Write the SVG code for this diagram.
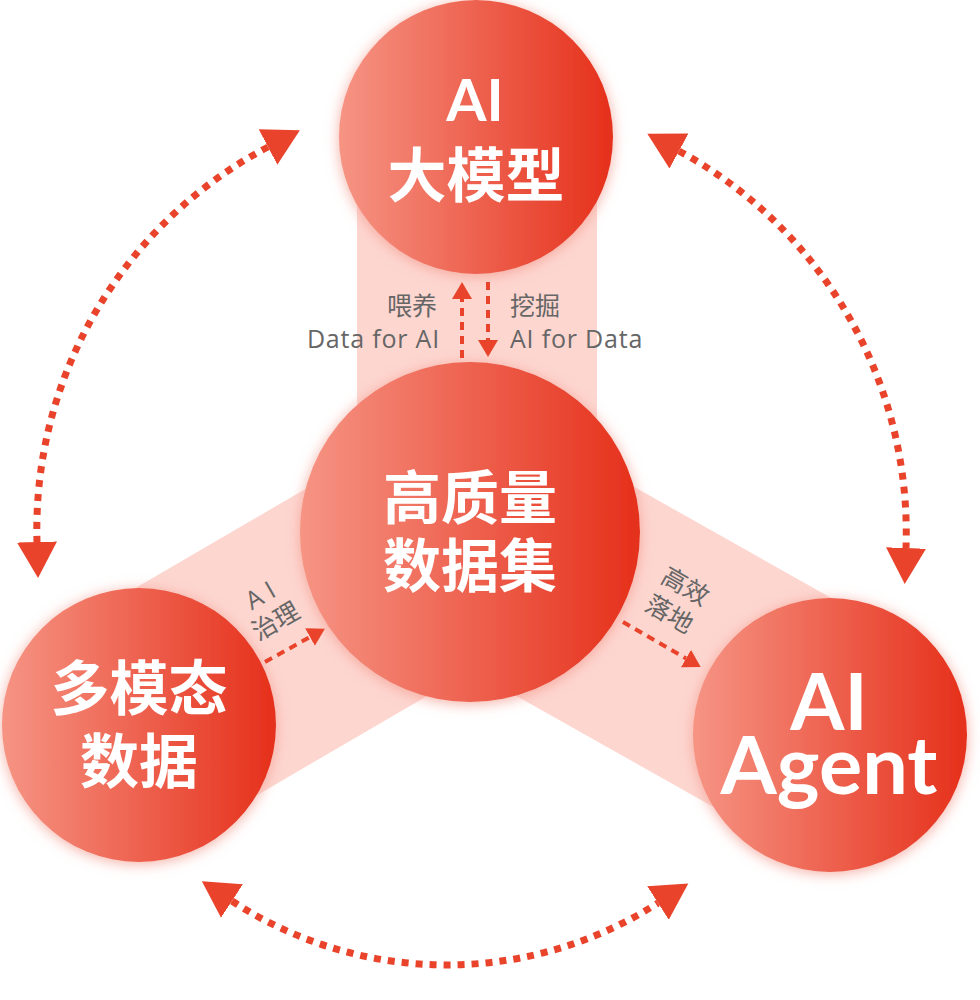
<svg xmlns="http://www.w3.org/2000/svg" width="980" height="1000" viewBox="0 0 980 1000">
<defs>
<linearGradient id="g" x1="0" y1="0" x2="1" y2="0">
<stop offset="0" stop-color="#f69484"/>
<stop offset="1" stop-color="#e5301a"/>
</linearGradient>
<filter id="glow" x="-20%" y="-20%" width="140%" height="140%">
<feDropShadow dx="0" dy="2" stdDeviation="7" flood-color="#f39a8d" flood-opacity="0.8"/>
</filter>
<marker id="big" markerUnits="userSpaceOnUse" markerWidth="40" markerHeight="44" refX="0" refY="21" orient="auto-start-reverse" viewBox="0 0 40 44">
<path d="M0,1 L36,21 L0,41 Z" fill="#e9442b"/>
</marker>
<marker id="small" markerUnits="userSpaceOnUse" markerWidth="20" markerHeight="22" refX="0" refY="11" orient="auto" viewBox="0 0 20 22">
<path d="M0,1 L17,11 L0,21 Z" fill="#e9442b"/>
</marker>
<style>
.band{fill:#fdd6d0}
.node{fill:url(#g);filter:url(#glow)}
.big{font-family:"Noto Sans CJK SC","Noto Sans",sans-serif;font-weight:700;fill:#fff;text-anchor:middle}
.lat{font-family:Lato,"Noto Sans",sans-serif;font-weight:700;fill:#fff;text-anchor:middle}
.lbl{font-family:"Noto Sans CJK SC","Noto Sans",sans-serif;font-size:25px;fill:#666}
.lblat{font-family:"Open Sans","Noto Sans",sans-serif;font-size:25px;fill:#666;letter-spacing:0.8px}
.wide{letter-spacing:7px}
.arc{fill:none;stroke:#e9442b;stroke-width:7;stroke-dasharray:7 7}
.dash{fill:none;stroke:#e9442b;stroke-width:4;stroke-dasharray:8 6}
</style>
</defs>
<rect width="980" height="1000" fill="#fff"/>
<g id="bands">
<rect class="band" x="357" y="137" width="240" height="395"/>
<polygon class="band" points="409.5,428.3 78.5,621.3 199.5,828.7 530.5,635.7"/>
<polygon class="band" points="528.9,427.5 888.9,630.5 771.1,839.5 411.1,636.5"/>
</g>
<g id="connectors">
<path class="arc" d="M268,147 A432,432 0 0 0 37,542" marker-start="url(#big)" marker-end="url(#big)"/>
<path class="arc" d="M679,151 A434,434 0 0 1 906,548" marker-start="url(#big)" marker-end="url(#big)"/>
<path class="arc" d="M232,901 A392,392 0 0 0 658,903" marker-start="url(#big)" marker-end="url(#big)"/>
</g>
<g id="node-top">
<circle class="node" cx="476" cy="137" r="137"/>
<text class="lat" x="475" y="121" font-size="58">AI</text>
<text class="big" x="476" y="197" font-size="59">大模型</text>
</g>
<g id="node-left">
<circle class="node" cx="139" cy="725" r="137"/>
<text class="big" x="139" y="710" font-size="59">多模态</text>
<text class="big" x="139" y="783" font-size="59">数据</text>
</g>
<g id="node-right">
<circle class="node" cx="830" cy="735" r="137"/>
<text class="lat" x="829" y="730" font-size="78">AI</text>
<text class="lat" x="829" y="794" font-size="81">Agent</text>
</g>
<g id="node-center">
<circle class="node" cx="470" cy="532" r="170"/>
<text class="big" x="470" y="519" font-size="58">高质量</text>
<text class="big" x="470" y="587" font-size="58">数据集</text>
</g>
<g id="inner-connectors">
<line class="dash" x1="462" y1="358" x2="462" y2="299" marker-end="url(#small)"/>
<line class="dash" x1="488" y1="282" x2="488" y2="340" marker-end="url(#small)"/>
<line class="dash" x1="265" y1="662" x2="310" y2="637" stroke-width="3.5" marker-end="url(#small)"/>
<line class="dash" x1="623" y1="622" x2="686" y2="658.5" stroke-width="3.5" marker-end="url(#small)"/>
</g>
<g id="labels">
<text class="lbl" x="412" y="315" text-anchor="middle">喂养</text>
<text class="lblat" x="440" y="348" text-anchor="end">Data for AI</text>
<text class="lbl" x="510" y="315">挖掘</text>
<text class="lblat" x="510" y="348">AI for Data</text>
<g transform="translate(268,608) rotate(-30)">
<text class="lblat wide" x="3" y="-6" text-anchor="middle">AI</text>
<text class="lbl" x="0" y="24" text-anchor="middle">治理</text>
</g>
<g transform="translate(677,601) rotate(30)">
<text class="lbl" x="0" y="-8" text-anchor="middle">高效</text>
<text class="lbl" x="0" y="24" text-anchor="middle">落地</text>
</g>
</g>
</svg>
